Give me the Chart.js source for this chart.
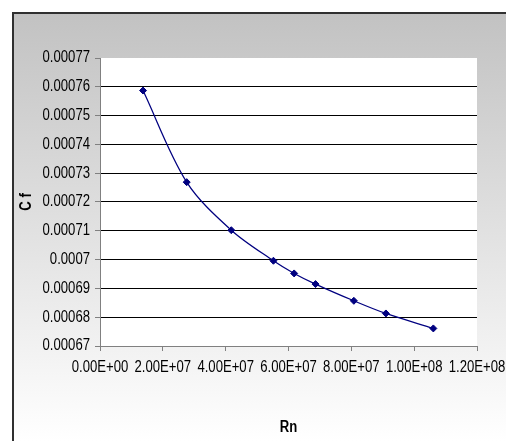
<!DOCTYPE html>
<html>
<head>
<meta charset="utf-8">
<script src="https://cdn.jsdelivr.net/npm/chart.js@4/dist/chart.umd.min.js"></script>
<style>
  html, body { margin: 0; padding: 0; background: #fff; }
  #wrap { width: 506px; height: 441px; }
</style>
</head>
<body>
<div id="wrap"><canvas id="c" width="506" height="441"></canvas></div>
<script>
// ---- data ----
const rnValues = [1.37e7, 2.76e7, 4.18e7, 5.52e7, 6.18e7, 6.86e7, 8.08e7, 9.10e7, 1.061e8];
const cfValues = [0.0007587, 0.0007269, 0.0007102, 0.0006996, 0.0006952, 0.0006915, 0.0006857, 0.0006813, 0.0006761];
const xTickValues = [0, 2e7, 4e7, 6e7, 8e7, 1e8, 1.2e8];
const xTickLabels = ['0.00E+00', '2.00E+07', '4.00E+07', '6.00E+07', '8.00E+07', '1.00E+08', '1.20E+08'];
const yTickValues = [0.00067, 0.00068, 0.00069, 0.00070, 0.00071, 0.00072, 0.00073, 0.00074, 0.00075, 0.00076, 0.00077];
const yTickLabels = ['0.00067', '0.00068', '0.00069', '0.0007', '0.00071', '0.00072', '0.00073', '0.00074', '0.00075', '0.00076', '0.00077'];
const xTitle = 'Rn';
const yTitle = 'C f';

const FONT = "'Liberation Sans', Arial, sans-serif";
const NARROW = 0.82; // horizontal condensing to mimic Arial Narrow

const bgPlugin = {
  id: 'bg',
  beforeInit(chart) {
    const ctx = chart.ctx;
    const orig = ctx.fillText;
    ctx.fillText = function (t, x, y, mw) {
      this.save();
      this.translate(x, y);
      this.scale(NARROW, 1);
      orig.call(this, t, 0, 0);
      this.restore();
    };
  },
  beforeDraw(chart) {
    const ctx = chart.ctx;
    const W = chart.width, H = chart.height;
    ctx.save();
    ctx.fillStyle = '#ffffff';
    ctx.fillRect(0, 0, W, H);
    const g = ctx.createLinearGradient(0, 13, 0, H);
    g.addColorStop(0, '#c2c2c2');
    g.addColorStop(1, '#ffffff');
    ctx.fillStyle = g;
    ctx.fillRect(13, 13, W, H);
    ctx.strokeStyle = '#303030';
    ctx.lineWidth = 2;
    ctx.beginPath();
    ctx.moveTo(13, H + 5);
    ctx.lineTo(13, 13);
    ctx.lineTo(W + 5, 13);
    ctx.stroke();
    const a = chart.chartArea;
    ctx.fillStyle = '#ffffff';
    ctx.fillRect(a.left, a.top, a.right - a.left, a.bottom - a.top);
    ctx.restore();
  }
};

new Chart(document.getElementById('c'), {
  type: 'scatter',
  data: {
    datasets: [{
      data: rnValues.map((x, i) => ({ x: x, y: cfValues[i] })),
      showLine: true,
      tension: 0.33,
      borderColor: '#000080',
      borderWidth: 1.25,
      backgroundColor: '#000080',
      pointStyle: 'rectRot',
      pointRadius: 3.5,
      pointBorderWidth: 1,
      pointBorderColor: '#000080',
      pointBackgroundColor: '#000080'
    }]
  },
  options: {
    responsive: false,
    animation: false,
    devicePixelRatio: 1,
    layout: { padding: { top: 58, right: 29, left: 0, bottom: 0 } },
    plugins: { legend: { display: false }, tooltip: { enabled: false } },
    scales: {
      x: {
        type: 'linear',
        min: 0, max: 1.2e8,
        afterBuildTicks(scale) { scale.ticks = xTickValues.map(v => ({ value: v })); },
        afterFit(scale) { scale.height = 95; scale.paddingLeft = 0; scale.paddingRight = 0; },
        ticks: {
          color: '#000',
          font: { family: FONT, size: 16 },
          padding: 7,
          maxRotation: 0,
          autoSkip: false,
          callback: (v, i) => xTickLabels[i]
        },
        grid: { drawOnChartArea: false, drawTicks: true, tickLength: 5, tickColor: '#808080' },
        border: { color: '#808080', width: 1 },
        title: { display: true, text: xTitle, color: '#000', font: { family: FONT, size: 16, weight: 'bold' }, padding: { top: 0, bottom: 4 } }
      },
      y: {
        type: 'linear',
        min: 0.00067, max: 0.00077,
        afterBuildTicks(scale) { scale.ticks = yTickValues.map(v => ({ value: v })); },
        afterFit(scale) { scale.width = 100; },
        ticks: {
          color: '#000',
          font: { family: FONT, size: 16 },
          padding: 5,
          autoSkip: false,
          callback: (v, i) => yTickLabels[i]
        },
        grid: {
          drawOnChartArea: true,
          drawTicks: true,
          tickLength: 5,
          tickColor: '#808080',
          color: (c) => {
            if (c.index === 0) return '#808080';
            if (c.index === yTickValues.length - 1) return 'rgba(0,0,0,0)';
            return '#000000';
          },
          lineWidth: 1
        },
        border: { color: '#808080', width: 1 },
        title: { display: true, text: yTitle, color: '#000', font: { family: FONT, size: 16, weight: 'bold' }, padding: { top: 17, bottom: 0 } }
      }
    }
  },
  plugins: [bgPlugin]
});
</script>
</body>
</html>
